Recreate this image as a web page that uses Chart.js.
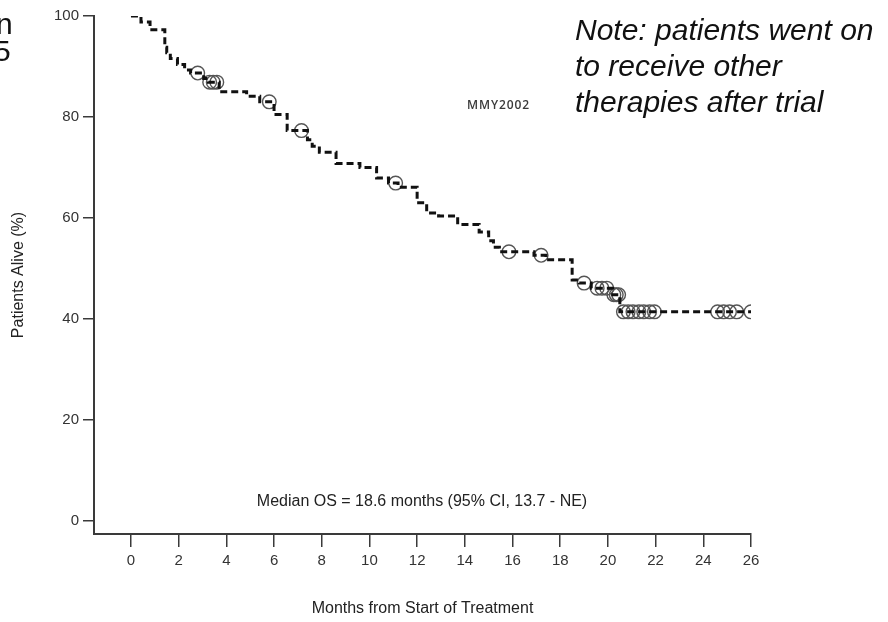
<!DOCTYPE html>
<html><head><meta charset="utf-8">
<script src="https://cdn.jsdelivr.net/npm/chart.js@4/dist/chart.umd.min.js"></script>
<style>
html,body{margin:0;padding:0;background:#fff;}
#wrap{position:relative;width:888px;height:622px;overflow:hidden;background:#fff;}
#c{position:absolute;left:0;top:0;}
.note{position:absolute;left:575px;top:12px;font:italic 30px 'Liberation Sans',Arial,sans-serif;line-height:36px;color:#111;white-space:nowrap;}
.cut{position:absolute;font:30px 'Liberation Sans',Arial,sans-serif;color:#111;line-height:30px;}
.mmy{position:absolute;left:467px;top:96px;font:600 12px 'Open Sans','Liberation Sans',sans-serif;letter-spacing:0.9px;color:#3a3a3a;}
.median{position:absolute;left:0;width:844px;text-align:center;top:492px;font:16px 'Liberation Sans',Arial,sans-serif;color:#222;}
</style></head>
<body><div id="wrap">
<canvas id="c" width="888" height="622"></canvas>
<div class="cut" style="left:-4px;top:9px;">n</div>
<div class="cut" style="left:-6px;top:36px;">5</div>
<div class="note">Note: patients went on<br>to receive other<br>therapies after trial</div>
<div class="mmy">MMY2002</div>
<div class="median">Median OS = 18.6 months (95% CI, 13.7 - NE)</div>
</div>
<script>
// Kaplan-Meier step curve (months, % alive after each event)
const stepMonths   = [0, 0.42, 0.8, 1.42, 1.5, 1.65, 1.95, 2.25, 2.5, 3.05, 3.25, 3.7, 4.85, 5.4, 6.0, 6.55, 7.4, 7.6, 7.9, 8.6, 9.6, 10.3, 10.8, 11.2, 12.0, 12.4, 12.9, 13.7, 14.6, 15.0, 15.2, 15.45, 16.9, 17.4, 18.5, 18.8, 19.3, 20.2, 20.5, 26];
const stepSurvival = [100, 98.8, 97.3, 93.8, 92.7, 91.6, 90.4, 89.3, 88.7, 87.6, 86.9, 85.0, 84.1, 83.0, 80.5, 77.3, 75.5, 74.2, 73.0, 70.8, 70.0, 67.9, 66.9, 66.1, 63.0, 61.0, 60.4, 58.7, 57.2, 55.5, 54.2, 53.3, 52.6, 51.7, 47.7, 47.1, 46.1, 44.8, 41.4, 41.4];
// Censored observations
const censorMonths   = [2.8, 3.3, 3.45, 3.6, 5.8, 7.15, 11.1, 15.85, 17.2, 19.0, 19.55, 19.75, 19.95, 20.25, 20.35, 20.45, 20.65, 20.85, 21.05, 21.3, 21.5, 21.75, 21.95, 24.6, 24.85, 25.1, 25.4, 26.0];
const censorSurvival = [88.7, 86.9, 86.9, 86.9, 83.0, 77.3, 66.9, 53.3, 52.6, 47.1, 46.1, 46.1, 46.1, 44.8, 44.8, 44.8, 41.4, 41.4, 41.4, 41.4, 41.4, 41.4, 41.4, 41.4, 41.4, 41.4, 41.4, 41.4];
// Axis ticks
const xTicks = [0, 2, 4, 6, 8, 10, 12, 14, 16, 18, 20, 22, 24, 26];
const yTicks = [0, 20, 40, 60, 80, 100];

const FONT = "'Liberation Sans',Arial,sans-serif";
const AX = '#3a3a3a';

const ctx = document.getElementById('c').getContext('2d');

new Chart(ctx, {
  type: 'line',
  data: {
    datasets: [
      {
        label: 'KM',
        data: stepMonths.map((m, i) => ({x: m, y: stepSurvival[i]})),
        stepped: true,
        borderColor: '#111',
        borderWidth: 3,
        borderDash: [7, 4],
        pointRadius: 0,
        fill: false
      },
      {
        label: 'Censored',
        data: censorMonths.map((m, i) => ({x: m, y: censorSurvival[i]})),
        showLine: false,
        pointStyle: 'circle',
        pointRadius: 6.8,
        pointBorderWidth: 1.4,
        pointBorderColor: '#555',
        pointBackgroundColor: 'rgba(0,0,0,0)'
      }
    ]
  },
  options: {
    responsive: false,
    devicePixelRatio: 1,
    animation: false,
    layout: {padding: {left: 0, right: 137, top: 16, bottom: 0}},
    plugins: {legend: {display: false}, tooltip: {enabled: false}},
    scales: {
      x: {
        type: 'linear', min: -1.55, max: 26,
        afterBuildTicks: s => { s.ticks = xTicks.map(v => ({value: v})); },
        afterFit: s => { s.height = 88; },
        grid: {drawOnChartArea: false, drawTicks: true, tickLength: 13, color: AX, lineWidth: 1.5},
        border: {display: true, color: AX, width: 2},
        ticks: {font: {family: FONT, size: 15}, color: '#333', padding: 5, maxRotation: 0, autoSkip: false},
        title: {display: true, text: 'Months from Start of Treatment', font: {family: FONT, size: 16}, color: '#222', padding: {top: 0, bottom: 4}}
      },
      y: {
        type: 'linear', min: -2.6, max: 100,
        afterBuildTicks: s => { s.ticks = yTicks.map(v => ({value: v})); },
        afterFit: s => { s.width = 94; },
        grid: {drawOnChartArea: false, drawTicks: true, tickLength: 11, color: AX, lineWidth: 1.5},
        border: {display: true, color: AX, width: 2},
        ticks: {font: {family: FONT, size: 15}, color: '#333', padding: 4, autoSkip: false},
        title: {display: true, text: 'Patients Alive (%)', font: {family: FONT, size: 16}, color: '#222', padding: {top: 9, bottom: 0}}
      }
    }
  }
});
</script>
</body></html>
